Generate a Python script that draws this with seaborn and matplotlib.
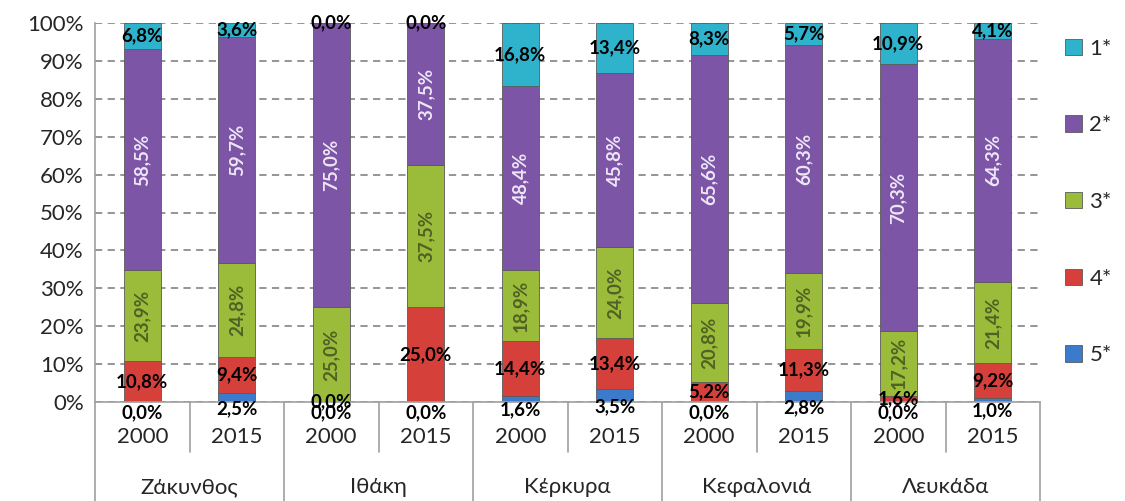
import pandas as pd
import numpy as np
import matplotlib
matplotlib.use('Agg')
import matplotlib.pyplot as plt
import matplotlib.transforms as mtransforms
import seaborn as sns

# data (percent shares by hotel class)
islands = ['Ζάκυνθος', 'Ιθάκη', 'Κέρκυρα', 'Κεφαλονιά', 'Λευκάδα']
years = ['2000', '2015']
classes = ['1*', '2*', '3*', '4*', '5*']

share_1 = [6.8, 3.6, 0.0, 0.0, 16.8, 13.4, 8.3, 5.7, 10.9, 4.1]
share_2 = [58.5, 59.7, 75.0, 37.5, 48.4, 45.8, 65.6, 60.3, 70.3, 64.3]
share_3 = [23.9, 24.8, 25.0, 37.5, 18.9, 24.0, 20.8, 19.9, 17.2, 21.4]
share_4 = [10.8, 9.4, 0.0, 25.0, 14.4, 13.4, 5.2, 11.3, 1.6, 9.2]
share_5 = [0.0, 2.5, 0.0, 0.0, 1.6, 3.5, 0.0, 2.8, 0.0, 1.0]

colors = {'1*': '#2FB3CC', '2*': '#7D55A6', '3*': '#9BBB3A',
          '4*': '#D6403B', '5*': '#3C7ACB'}
label_colors = {'1*': 'black', '2*': '#EDE6F5', '3*': '#4E6224',
                '4*': 'black', '5*': 'black'}

sns.set_style('white')
plt.rcParams['font.family'] = ['Lato', 'DejaVu Sans']

# long format table for seaborn
rows = []
for cls, vals in zip(classes, [share_1, share_2, share_3, share_4, share_5]):
    for i, v in enumerate(vals):
        rows.append({'pos': i, 'cls': cls, 'value': v})
df = pd.DataFrame(rows)

fig = plt.figure(figsize=(11.25, 5.01), dpi=100)
ax = fig.add_axes([95 / 1125, 99 / 501, 945 / 1125, 379 / 501])

# stacked bars: last hue level ends up at the bottom
sns.histplot(data=df, x='pos', hue='cls', weights='value', hue_order=classes,
             multiple='stack', discrete=True, shrink=0.39, palette=colors,
             alpha=1, linewidth=0.6, edgecolor='#5A5A5A', ax=ax)

ax.set_xlim(-0.5, 9.5)
ax.set_ylim(0, 100)
ax.set_yticks(np.arange(0, 101, 10))
ax.set_yticklabels([f'{t}%' for t in range(0, 101, 10)], fontsize=16)
ax.set_xticks([])
ax.set_xlabel('')
ax.set_ylabel('')
ax.set_axisbelow(True)
ax.yaxis.grid(True, color='#8C8C8C', linestyle=(0, (4, 3)), linewidth=1.3)
ax.tick_params(axis='y', length=5, color='#A0A0A0', pad=3)
for side in ['top', 'right']:
    ax.spines[side].set_visible(False)
for side in ['left', 'bottom']:
    ax.spines[side].set_color('#A0A0A0')
    ax.spines[side].set_linewidth(1.2)

# data labels, centred in each segment
stack = pd.DataFrame({'5*': share_5, '4*': share_4, '3*': share_3,
                      '2*': share_2, '1*': share_1})
bottoms = stack.cumsum(axis=1) - stack
for cls in classes:
    for i in range(len(share_1)):
        v = stack.loc[i, cls]
        y = bottoms.loc[i, cls] + v / 2
        txt = f'{v:.1f}'.replace('.', ',') + '%'
        if cls in ['2*', '3*']:
            ax.text(i, y, txt, rotation=90, ha='center', va='center',
                    fontsize=13.5, fontweight='bold', color=label_colors[cls])
        else:
            dy = -8 if cls == '5*' else 0
            ax.annotate(txt, (i, y), xytext=(0, dy), textcoords='offset points',
                        ha='center', va='center', fontsize=13.5,
                        fontweight='bold', color=label_colors[cls])

# two-level category axis
trans = mtransforms.blended_transform_factory(ax.transData, ax.transAxes)
for b in np.arange(-0.5, 10, 1.0):
    group_edge = int(b + 0.5) % 2 == 0
    y_end = -0.265 if group_edge else -0.132
    ax.plot([b, b], [0, y_end], color='#A0A0A0', lw=1.2, transform=trans,
            clip_on=False)
for i in range(len(share_1)):
    ax.text(i, -0.092, years[i % 2], transform=trans, ha='center', va='center',
            fontsize=16)
for g, name in enumerate(islands):
    ax.text(2 * g + 0.5, -0.225, name, transform=trans, ha='center',
            va='center', fontsize=16)

sns.move_legend(ax, loc='upper left', bbox_to_anchor=(1.01, 1.0), frameon=False,
                title=None, fontsize=16, labelspacing=2.55, handlelength=0.75,
                handleheight=0.75, handletextpad=0.35, borderpad=0.2)

plt.savefig('out.png', dpi=100)
plt.close()
